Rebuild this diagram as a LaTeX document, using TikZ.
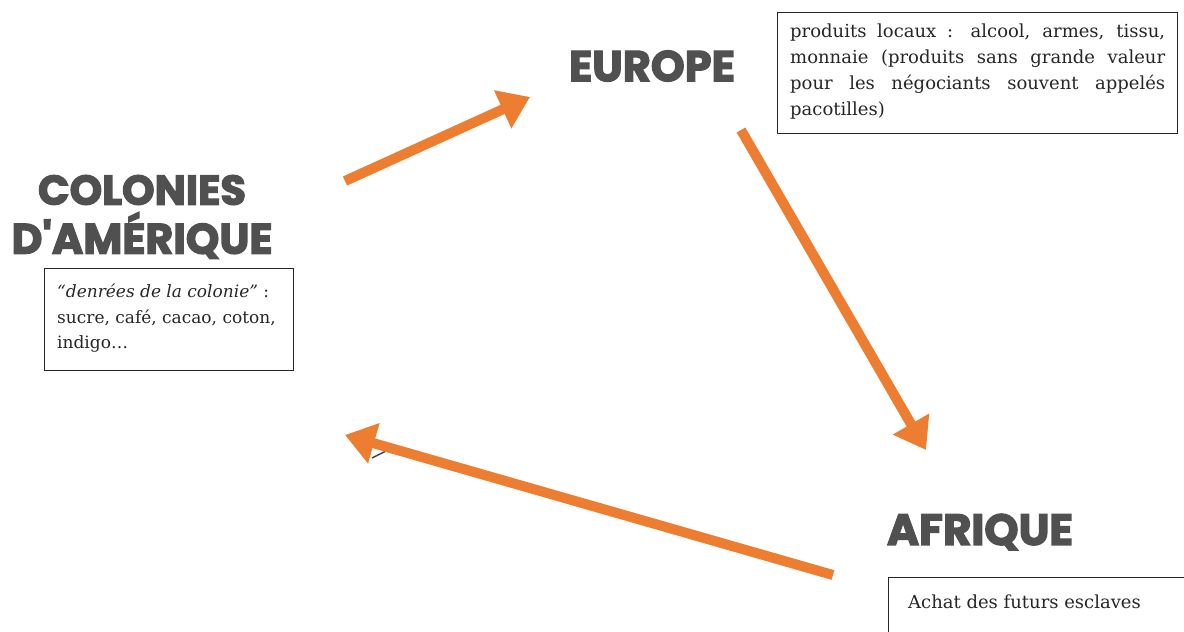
\documentclass[tikz,border=0pt]{standalone}
\usepackage{fontspec}
\setmainfont{DejaVu Serif}
\newfontfamily\headfont{Poppins}[FakeBold=3]
\usetikzlibrary{arrows.meta}
\definecolor{arrorange}{HTML}{ED7D31}
\definecolor{headgray}{HTML}{505050}
\definecolor{txtgray}{HTML}{262626}
\tikzset{
  head/.style={font=\headfont\bfseries\fontsize{40}{42}\selectfont, text=headgray, inner sep=0pt},
  txtbox/.style={draw=black!85, line width=1pt, inner sep=0pt},
  bodytxt/.style={inner sep=0pt, text=txtgray, font=\fontsize{18}{26}\selectfont, align=left},
  flow/.style={draw=arrorange, line width=10pt, -{Triangle[length=30pt,width=40pt]}},
}
\begin{document}
\begin{tikzpicture}[x=1pt,y=-1pt]
\useasboundingbox (0,0) rectangle (1184,632);
% headings
\node[head] (eu) at (652,66) {\resizebox{166pt}{!}{EUROPE}};
\node[head] (am1) at (142,190) {\resizebox{208pt}{!}{COLONIES}};
\node[head, anchor=south] (am2) at (142,259) {\resizebox{261pt}{!}{D'AMÉRIQUE}};
\node[head] (af) at (980,532) {\resizebox{186pt}{!}{AFRIQUE}};
% boxes
\node[txtbox, minimum width=400pt, minimum height=121pt, anchor=north west] (boxeu) at (777,12) {};
\node[bodytxt, anchor=north west] (teu) at (790,24) {\makebox[375pt][s]{produits locaux : alcool, armes, tissu,}\\ \makebox[375pt][s]{monnaie (produits sans grande valeur}\\ \makebox[375pt][s]{pour les négociants souvent appelés}\\ pacotilles)};
\node[txtbox, minimum width=249pt, minimum height=102pt, anchor=north west] (boxam) at (44,268) {};
\node[bodytxt, anchor=north west, font=\fontsize{17}{25.5}\selectfont] (tam) at (57,284) {\textit{“denrées de la colonie”} :\\ sucre, café, cacao, coton,\\ indigo…};
\coordinate (afa) at (888,640);
\coordinate (afb) at (888,577);
\coordinate (afc) at (1184,577);
\draw[line width=1pt, black!85] (afa) -- (afb) -- (afc);
\node[bodytxt, anchor=base west] (taf) at (908,608) {Achat des futurs esclaves};
% arrows
\coordinate (a1s) at (345,181);
\coordinate (a1e) at (530,97);
\coordinate (a2s) at (741,130);
\coordinate (a2e) at (926,450);
\coordinate (a3s) at (833,575);
\coordinate (a3e) at (345,435);
\coordinate (s1) at (372,458);
\coordinate (s2) at (386,451);
\draw[line width=1.5pt, black!75] (s1) -- (s2);
\draw[flow] (a1s) -- (a1e);
\draw[flow] (a2s) -- (a2e);
\draw[flow] (a3s) -- (a3e);
\end{tikzpicture}
\end{document}
